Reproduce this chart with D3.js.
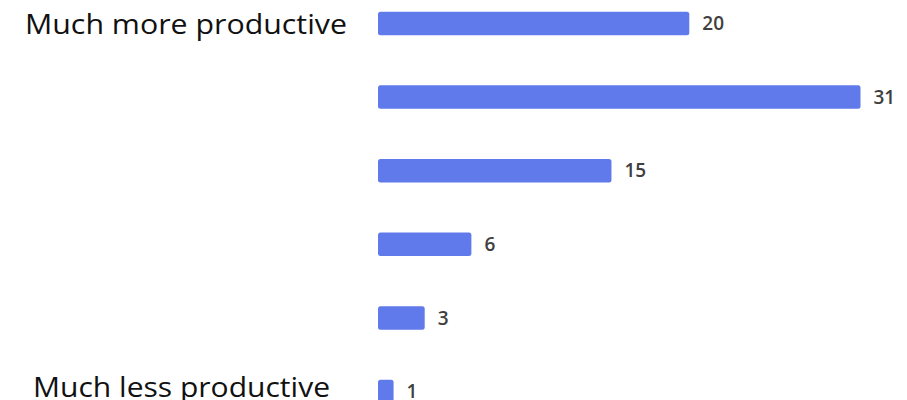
<!DOCTYPE html>
<html>
<head>
<meta charset="utf-8">
<style>
    body { margin: 0; background: #fff; }
    svg { display: block; }
    .end-label {
        font-family: "Open Sans", sans-serif;
        font-size: 27px;
        fill: #111;
    }
    .value-label {
        font-family: "Open Sans", "Noto Sans", sans-serif;
        font-size: 19px;
        font-weight: 600;
        fill: #404040;
    }
</style>
</head>
<body>
<svg width="907" height="400"></svg>

<script src="https://d3js.org/d3.v7.min.js"></script>
<script>

    // levels from top (much more productive) to bottom (much less productive)
    let levels = ["level6", "level5", "level4", "level3", "level2", "level1"];
    let counts = [20, 31, 15, 6, 3, 1];
    let endLabels = ["Much more productive", "", "", "", "", "Much less productive"];

    let svg = d3.select("svg");

    let x = d3.scaleLinear()
        .domain([0, d3.max(counts)])
        .range([378, 860.5]);

    let y = d3.scalePoint()
        .domain(levels)
        .range([23.5, 391.5]);

    let barHeight = 23.5;

    let data = levels.map((d, i) => ({ level: d, count: counts[i], label: endLabels[i] }));

    svg.append("g")
        .selectAll("rect")
        .data(data)
        .join("rect")
        .attr("x", x(0))
        .attr("y", d => y(d.level) - barHeight / 2)
        .attr("width", d => x(d.count) - x(0))
        .attr("height", barHeight)
        .attr("rx", 2.5)
        .style("fill", "#6079eb");

    svg.append("g")
        .selectAll("text")
        .data(data)
        .join("text")
        .attr("class", "value-label")
        .attr("x", d => x(d.count) + 13)
        .attr("y", d => y(d.level))
        .attr("dy", "0.35em")
        .text(d => d.count);

    // only the two ends of the scale carry a label
    let ends = data.filter(d => d.label != "");
    let labelWidth = { "Much more productive": 322, "Much less productive": 297 };
    let labelShift = { "Much more productive": 0, "Much less productive": -5 };

    svg.append("g")
        .selectAll("text")
        .data(ends)
        .join("text")
        .attr("class", "end-label")
        .attr("x", d => d.label == "Much more productive" ? 25 : 33)
        .attr("y", d => y(d.level) + labelShift[d.label] + 10)
        .attr("textLength", d => labelWidth[d.label])
        .attr("lengthAdjust", "spacingAndGlyphs")
        .text(d => d.label);

</script>
</body>
</html>
